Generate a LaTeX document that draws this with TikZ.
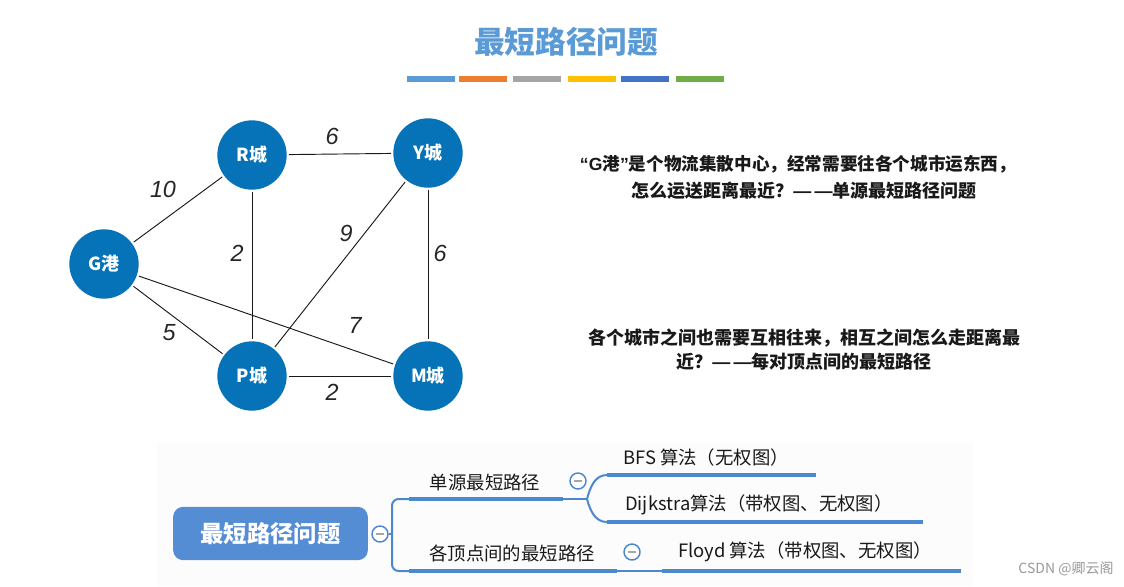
\documentclass[tikz,border=0pt]{standalone}
\usepackage{fontspec}
\setmainfont{Liberation Sans}
\newfontfamily\cjk{Noto Sans CJK SC}
\begin{document}
\begin{tikzpicture}[x=0.75pt, y=-0.75pt, line join=round,
  city/.style={circle, fill=cityblue, minimum size=52pt, inner sep=0pt,
    text=white, font=\cjk\bfseries\fontsize{13.5}{16}\selectfont},
  road/.style={black!90, line width=0.7pt, shorten <=1.5pt, shorten >=1.5pt},
  weight/.style={inner sep=0pt, text=black!85, font=\itshape\fontsize{17.5}{20}\selectfont},
  note/.style={inner sep=0pt, text=black!90, font=\cjk\bfseries\fontsize{13.5}{16}\selectfont},
  leaf/.style={inner sep=0pt, text=black!90, font=\cjk\fontsize{13.8}{16}\selectfont},
  link/.style={mapblue, line width=1.5pt},
  underline/.style={mapblue, line width=3.6pt, line cap=butt},
  fold/.style={circle, draw=mapblue, line width=1.1pt, fill=white, minimum size=12pt, inner sep=0pt,
    path picture={\draw[gray!70, line width=1pt] ([xshift=-3pt]path picture bounding box.center) -- ([xshift=3pt]path picture bounding box.center);}}]
  \definecolor{cityblue}{RGB}{6,114,184}
  \definecolor{titleblue}{RGB}{91,155,213}
  \definecolor{mapblue}{RGB}{76,136,208}
  \definecolor{rootblue}{RGB}{85,141,212}
  \definecolor{barorange}{HTML}{ED7D31}
  \definecolor{bargray}{HTML}{A5A5A5}
  \definecolor{baryellow}{HTML}{FFC000}
  \definecolor{barblue}{HTML}{4472C4}
  \definecolor{bargreen}{HTML}{70AD47}
  \definecolor{mapback}{RGB}{252,252,252}
  \useasboundingbox[fill=white] (0,0) rectangle (1124,586);
  \fill[mapback] (157,443) rectangle (973,586);
  % title
  \node[text=titleblue, font=\cjk\bfseries\fontsize{23}{26}\selectfont] (title) at (566,42) {最短路径问题};
  \foreach \x/\c in {407/titleblue, 459/barorange, 513/bargray, 568/baryellow, 621/barblue, 676/bargreen}
    \fill[\c] (\x,76) rectangle ++(48,5.5);
  % graph
  \node[city] (G) at (104,264) {G港};
  \node[city] (R) at (252,155) {R城};
  \node[city] (Y) at (428,153) {Y城};
  \node[city] (P) at (252,376) {P城};
  \node[city] (M) at (428,376) {M城};
  \draw[road] (G) -- (R);
  \draw[road] (R) -- (Y);
  \draw[road] (R) -- (P);
  \draw[road] (Y) -- (P);
  \draw[road] (Y) -- (M);
  \draw[road] (G) -- (M);
  \draw[road] (G) -- (P);
  \draw[road] (P) -- (M);
  \node[weight] (wRY) at (332,136) {6};
  \node[weight] (wGR) at (163,189) {10};
  \node[weight] (wRP) at (237,253) {2};
  \node[weight] (wYP) at (346,233) {9};
  \node[weight] (wYM) at (440,253) {6};
  \node[weight] (wGM) at (355,325) {7};
  \node[weight] (wGP) at (169,333) {5};
  \node[weight] (wPM) at (332,392) {2};
  % questions
  \node[note, font=\cjk\bfseries\fontsize{13.2}{16}\selectfont] (q1a) at (798,164) {{\rmfamily “G}港{\rmfamily ”}是个物流集散中心，经常需要往各个城市运东西，};
  \node[note] (q1b) at (804,191) {怎么运送距离最近？{\rmfamily —\hspace{2.5pt}—}单源最短路径问题};
  \node[note] (q2a) at (804,338) {各个城市之间也需要互相往来，相互之间怎么走距离最};
  \node[note] (q2b) at (804,362) {近？{\rmfamily —\hspace{2.5pt}—}每对顶点间的最短路径};
  % mind map
  \node[fill=rootblue, rounded corners=7.5pt, minimum width=146pt, minimum height=40pt,
    text=white, font=\cjk\bfseries\fontsize{17.5}{20}\selectfont] (root) at (270.5,533.5) {最短路径问题};
  \node[fold] (f0) at (380,534) {};
  \coordinate (fork) at (392,534);
  \coordinate (s1) at (409,499);
  \coordinate (e1) at (563,499);
  \coordinate (s2) at (409,571);
  \coordinate (e2) at (617,571);
  \coordinate (split) at (587,499);
  \coordinate (sb) at (607,475);
  \coordinate (eb) at (816,475);
  \coordinate (sd) at (607,522);
  \coordinate (ed) at (923,522);
  \coordinate (sf) at (662,571);
  \coordinate (ef) at (961,571);
  \draw[link] (f0.east) -- (fork);
  \draw[link, rounded corners=5pt] (s1) -| (fork) |- (s2);
  \draw[underline] (s1) -- (e1);
  \draw[underline] (s2) -- (e2);
  \draw[link] (e1) -- (split);
  \draw[link] (split) to[out=75, in=180] (sb);
  \draw[link] (split) to[out=-75, in=180] (sd);
  \draw[link] (e2) -- (sf);
  \draw[underline] (sb) -- (eb);
  \draw[underline] (sd) -- (ed);
  \draw[underline] (sf) -- (ef);
  \node[leaf] (single) at (485,482) {单源最短路径};
  \node[leaf] (allpairs) at (512,553) {各顶点间的最短路径};
  \node[fold] (f1) at (578,481) {};
  \node[fold] (f2) at (632,552) {};
  \node[leaf] (bfs) at (706,457) {BFS 算法（无权图）};
  \node[leaf] (dijkstra) at (759,505) {Dijkstra算法（带权图、无权图）};
  \node[leaf] (floyd) at (805,552) {Floyd 算法（带权图、无权图）};
  % watermark
  \node[text=gray!80, font=\cjk\fontsize{10.5}{12}\selectfont] (mark) at (1066,569) {CSDN @卿云阁};
\end{tikzpicture}
\end{document}
